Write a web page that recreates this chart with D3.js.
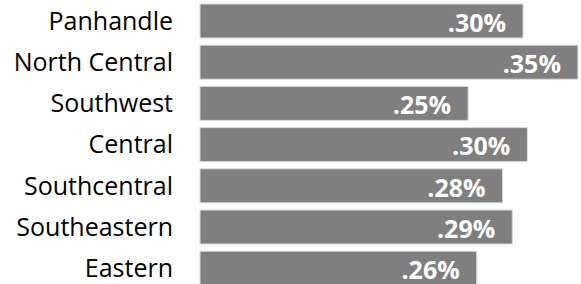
<!DOCTYPE html>
<html>
<head>
<meta charset="utf-8">
<script src="https://cdn.jsdelivr.net/npm/d3@7"></script>
<style>
  html, body { margin: 0; padding: 0; background: #fff; }
  svg { display: block; }
  .cat { font-family: "Open Sans", "Noto Sans", sans-serif; font-size: 25px; fill: #000; }
  .val { font-family: "Open Sans", "Noto Sans", sans-serif; font-size: 25px; font-weight: bold; fill: #fff; }
</style>
</head>
<body>
<script>
// regions, top to bottom
const regions = ["Panhandle", "North Central", "Southwest", "Central", "Southcentral", "Southeastern", "Eastern"];
// rate in percent
const rates = [0.300, 0.351, 0.249, 0.304, 0.281, 0.290, 0.257];
// printed labels
const rateLabels = [".30%", ".35%", ".25%", ".30%", ".28%", ".29%", ".26%"];

const width = 581, height = 284;

const svg = d3.select("body").append("svg")
    .attr("width", width)
    .attr("height", height);

let x = d3.scaleLinear()
    .domain([0, 0.352])
    .range([200, 579]);

let y = d3.scaleBand()
    .domain(regions)
    .range([4, 285.2])
    .paddingInner(0.175)
    .paddingOuter(0);

let rows = svg.selectAll(".row")
  .data(regions.map((r, i) => ({ region: r, rate: rates[i], label: rateLabels[i] })))
  .enter()
  .append("g")
    .attr("class", "row");

rows.append("rect")
    .attr("x", x(0))
    .attr("y", (d) => y(d.region))
    .attr("width", (d) => x(d.rate) - x(0))
    .attr("height", y.bandwidth())
    .attr("fill", "#7f7f7f")
    .attr("stroke", "#d9d9d9")
    .attr("stroke-width", 1);

// category names to the left of the bars
rows.append("text")
    .attr("class", "cat")
    .attr("x", 173)
    .attr("y", (d) => y(d.region) + y.bandwidth() / 2)
    .attr("dy", "0.35em")
    .attr("text-anchor", "end")
    .text((d) => d.region);

// value labels inside the bar end, sitting a little low
rows.append("text")
    .attr("class", "val")
    .attr("x", (d) => x(d.rate) - 17)
    .attr("y", (d) => y(d.region) + y.bandwidth() / 2 + 2)
    .attr("dy", "0.35em")
    .attr("text-anchor", "end")
    .text((d) => d.label);
</script>
</body>
</html>
